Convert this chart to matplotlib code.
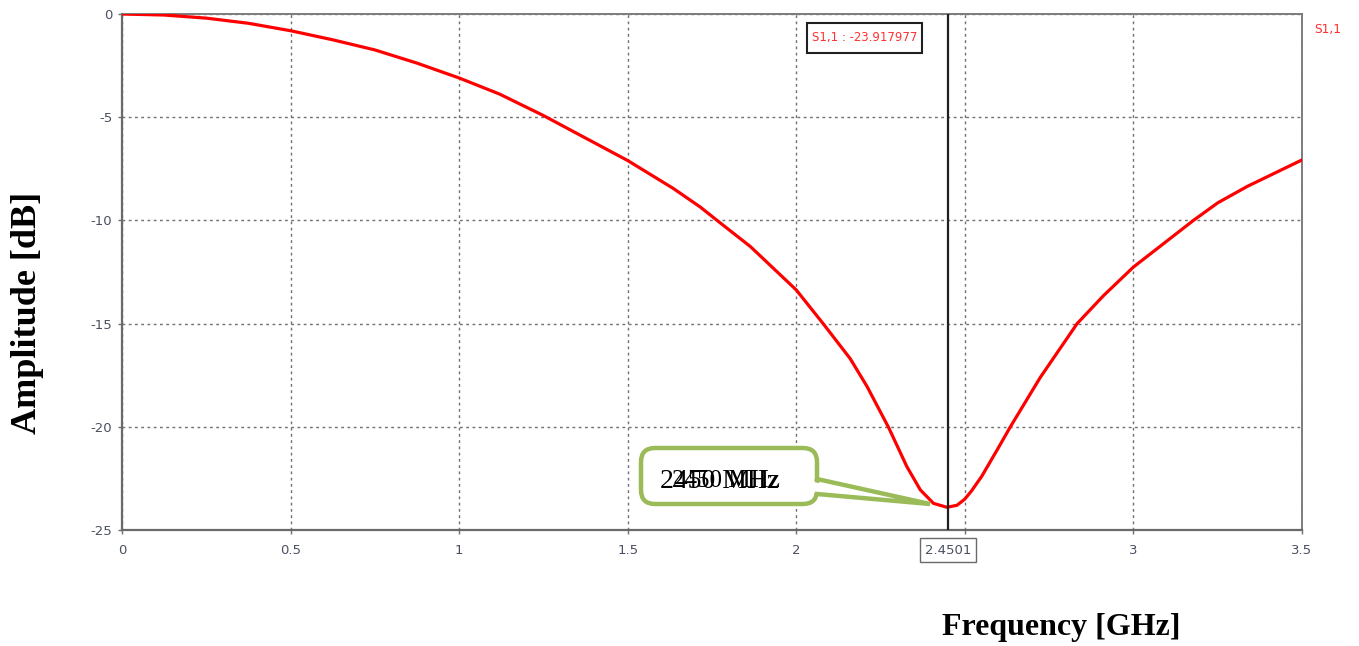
import numpy as np
import matplotlib
matplotlib.use("Agg")
import matplotlib.pyplot as plt
from matplotlib.patches import FancyBboxPatch, Polygon, Rectangle
from matplotlib.lines import Line2D
from matplotlib.transforms import Affine2D, blended_transform_factory

W, H = 1359, 646

# S11 readings (GHz, dB)
freq = [0.0, 0.125, 0.25, 0.375, 0.5, 0.625, 0.75, 0.875, 1.0, 1.12, 1.25,
        1.368, 1.5, 1.635, 1.715, 1.765, 1.864, 2.0, 2.081, 2.16, 2.21, 2.274,
        2.328, 2.368, 2.407, 2.447, 2.477, 2.5, 2.52, 2.55, 2.6, 2.635, 2.724,
        2.833, 2.911, 3.0, 3.178, 3.25, 3.338, 3.5]
s11 = [0.0, -0.05, -0.2, -0.45, -0.81, -1.25, -1.74, -2.38, -3.1, -3.88,
       -4.92, -5.95, -7.1, -8.45, -9.35, -10.0, -11.27, -13.37, -15.03,
       -16.7, -18.05, -20.04, -21.93, -23.06, -23.71, -23.9, -23.8, -23.5,
       -23.1, -22.4, -21.0, -20.0, -17.6, -15.0, -13.65, -12.26, -10.0,
       -9.15, -8.35, -7.07]
marker_f = 2.4501
marker_val = -23.917977
xticks = [0, 0.5, 1, 1.5, 2, 2.5, 3, 3.5]
yticks = [0, -5, -10, -15, -20, -25]

RED = "#ff0000"
GREEN = "#9bbb59"
TICKC = "#4b5060"
SERIF = "Liberation Serif"

fig = plt.figure(figsize=(W / 100, H / 100), dpi=100)
ax = fig.add_axes([122 / W, 1 - 530 / H, 1180 / W, 516 / H])

ax.plot(freq, s11, color=RED, lw=2.3, solid_capstyle="round",
        solid_joinstyle="round", zorder=4)
ax.axvline(marker_f, color="#202020", lw=1.6, zorder=5)

ax.set_xlim(0, 3.5)
ax.set_ylim(-25, 0)
ax.set_xticks(xticks)
# 2.5 label is hidden under the marker box in the original
ax.set_xticklabels(["" if t == 2.5 else f"{t:g}" for t in xticks])
ax.set_yticks(yticks)
ax.set_yticklabels([f"{t:g}" for t in yticks])
ax.tick_params(axis="both", labelsize=9.5, colors="#707070", labelcolor=TICKC,
               length=3, width=1)
ax.tick_params(axis="x", pad=7)
ax.tick_params(axis="y", pad=4)
ax.grid(True, color="#707070", linestyle=(0, (2, 2.5)), lw=1)
for side in ["left", "bottom"]:
    ax.spines[side].set_color("#6a6a6a")
    ax.spines[side].set_linewidth(1.6)
for side in ["top", "right"]:
    ax.spines[side].set_color("#7c7c7c")
    ax.spines[side].set_linewidth(1.4)

# marker readout box at the top
ax.add_patch(Rectangle((0.5805, 0.9244), 0.0975, 0.0582, transform=ax.transAxes,
                       facecolor="white", edgecolor="#202020", lw=1.5, zorder=6))
ax.text(0.6292, 0.9545, f"S1,1 : {marker_val:.6f}", transform=ax.transAxes,
        ha="center", va="center", fontsize=8.4, color="#ff3030", zorder=7)
fig.text(1314 / W, 1 - 29 / H, "S1,1", fontsize=8.8, color="#ff3030",
         ha="left", va="center")

# marker frequency box on the x axis
bt = blended_transform_factory(ax.transData, ax.transAxes)
ax.text(marker_f, -0.0388, f"{marker_f:.4f}", transform=bt, ha="center",
        va="center", fontsize=9.5, color=TICKC, zorder=8, clip_on=False,
        bbox=dict(boxstyle="square,pad=0.4", facecolor="white",
                  edgecolor="#6a6a6a", lw=1))

# green callout (pixel coordinates, top-left origin)
PX = Affine2D().scale(1, -1).translate(0, H)
fig.patches.append(FancyBboxPatch((641, 448), 176, 56,
                                  boxstyle="round,pad=0,rounding_size=14",
                                  transform=PX, facecolor="white",
                                  edgecolor=GREEN, lw=3.2, zorder=10))
fig.patches.append(Polygon([(808, 481), (930, 504), (808, 492)], closed=True,
                           transform=PX, facecolor="white", edgecolor="none",
                           zorder=11))
fig.lines.append(Line2D([817, 930, 817], [479, 504, 494], transform=PX,
                        color=GREEN, lw=3.2, solid_joinstyle="miter", zorder=12))
fig.text(660, 481, "2450 MHz", transform=PX, fontsize=20, family=SERIF,
         ha="left", va="center", zorder=13)
fig.text(672, 481, "2450 MHz", transform=PX, fontsize=18, family=SERIF,
         ha="left", va="center", zorder=13)

fig.text(1061 / W, 1 - 627 / H, "Frequency [GHz]", fontsize=23,
         fontweight="bold", family=SERIF, ha="center", va="center")
fig.text(28 / W, 1 - 313 / H, "Amplitude [dB]", fontsize=26, rotation=90,
         fontweight="bold", family=SERIF, ha="center", va="center")

fig.savefig("out.png", dpi=100)
